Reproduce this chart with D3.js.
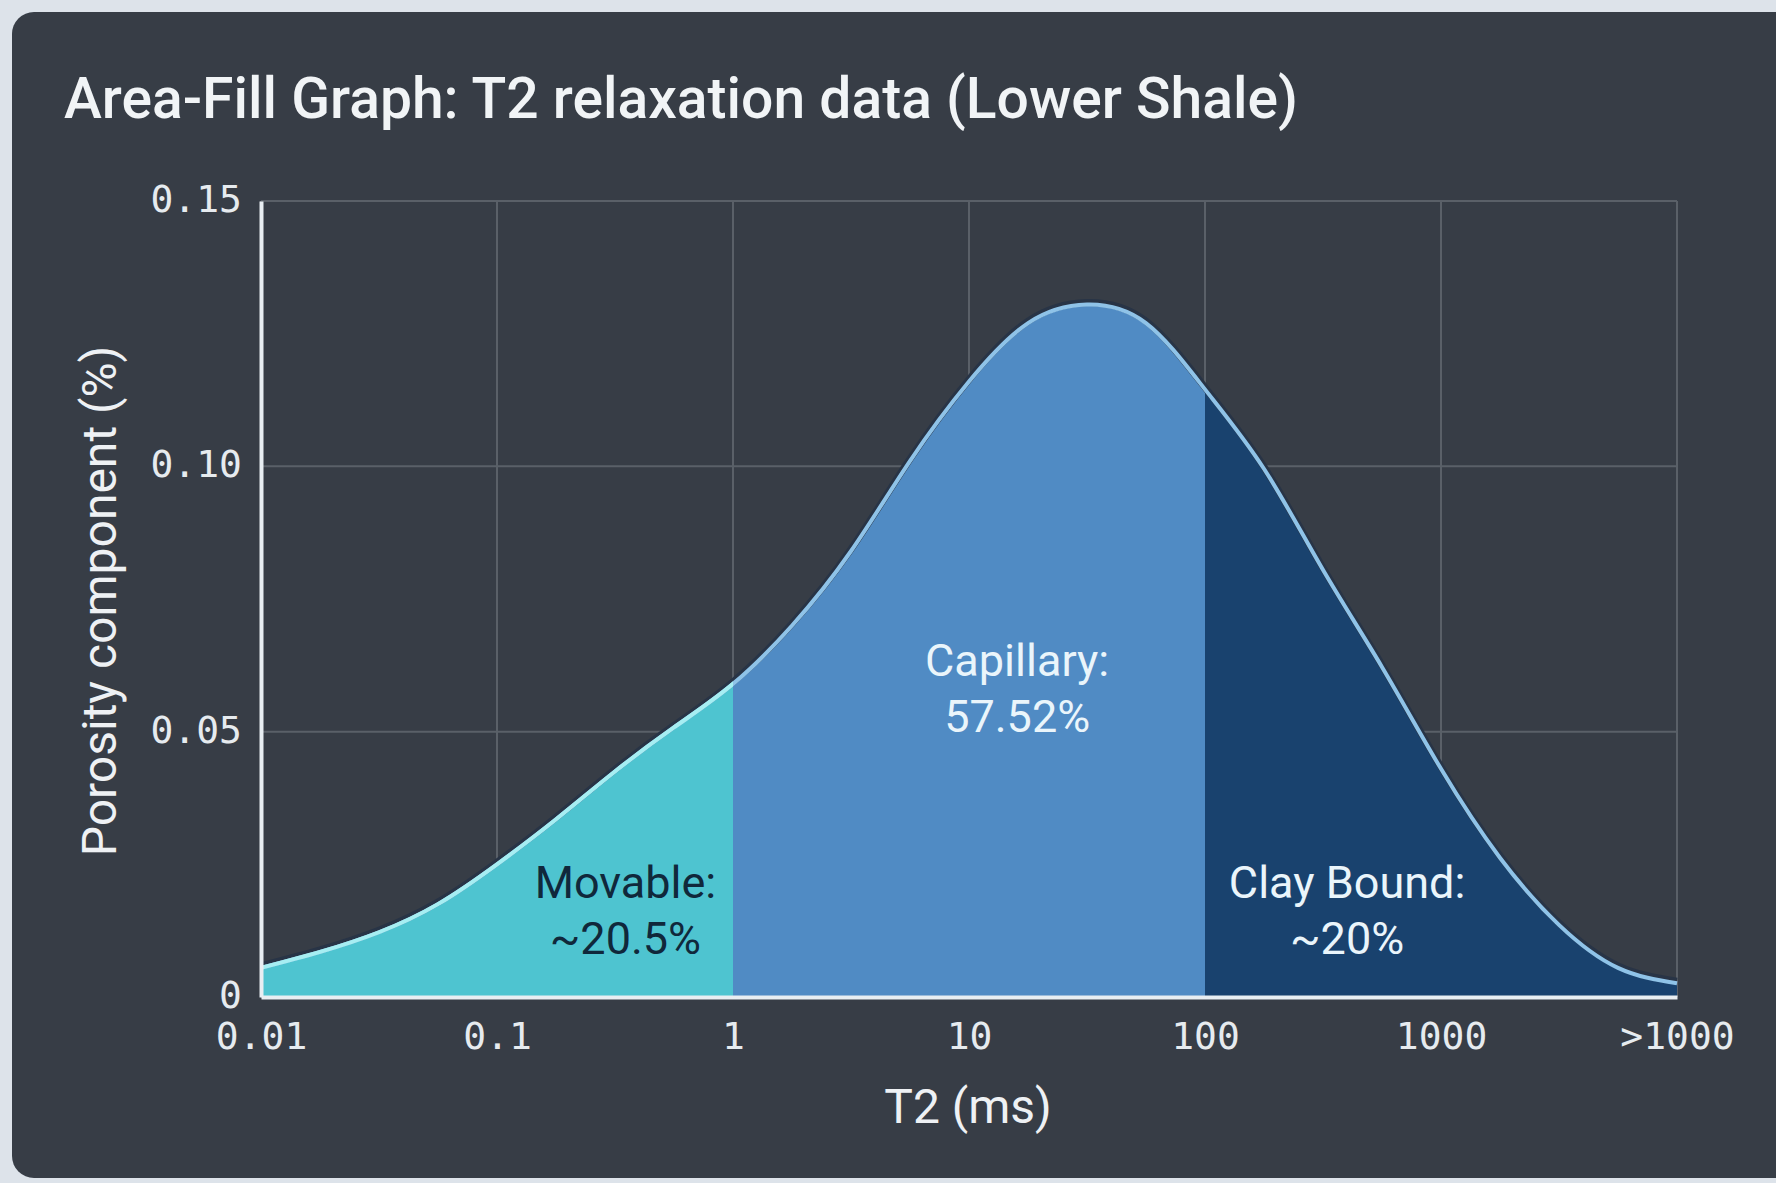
<!DOCTYPE html>
<html>
<head>
<meta charset="utf-8">
<script src="https://cdn.jsdelivr.net/npm/d3@7"></script>
<style>
    html, body { margin: 0; padding: 0; background: #dde3ea; }
    svg { display: block; }
    .tick text { font-family: "DejaVu Sans Mono", monospace; fill: #e6ebef; }
</style>
</head>
<body>
<script>
/* data */
const t2Values = [0.01, 0.0178, 0.0316, 0.0562, 0.1, 0.178, 0.316, 0.562, 1, 1.78, 3.16, 5.62, 10,
    17.8, 31.6, 56.2, 100, 178, 316, 562, 1000, 1780, 3160, 5620, 10000];
const porosity = [0.0055, 0.0085, 0.0122, 0.0175, 0.025, 0.0335, 0.0425, 0.0508, 0.059, 0.070, 0.084, 0.101, 0.116,
    0.127, 0.1305, 0.127, 0.1145, 0.0995, 0.0805, 0.0622, 0.043, 0.0262, 0.0136, 0.0055, 0.0026];

const xTicks = [0.01, 0.1, 1, 10, 100, 1000, 10000];
const xTickLabels = ["0.01", "0.1", "1", "10", "100", "1000", ">1000"];
const yTicks = [0, 0.05, 0.10, 0.15];
const yTickLabels = ["0", "0.05", "0.10", "0.15"];

const zoneNames = ["Movable:", "Capillary:", "Clay Bound:"];
const zoneShares = ["~20.5%", "57.52%", "~20%"];
const zoneStart = [0.01, 1, 100];
const zoneEnd = [1, 100, 10000];

/* styling / layout */
const zoneColours = ["#4ec4d0", "#508bc4", "#19426e"];
const zoneTextColours = ["#10283b", "#eaf5fb", "#eaf5fb"];
const labelAnchors = [[0.35, 0.0187], [16, 0.0604], [400, 0.0187]];

const width = 1776;
const height = 1183;
const plotLeft = 261, plotRight = 1677, plotTop = 201, plotBottom = 997;

const svg = d3.select("body")
    .append("svg")
    .attr("width", width)
    .attr("height", height);

svg.append("rect")
    .attr("x", 12)
    .attr("y", 12)
    .attr("width", 1790)
    .attr("height", 1166)
    .attr("rx", 22)
    .attr("fill", "#373d46");

svg.append("text")
    .attr("x", 64)
    .attr("y", 118)
    .attr("fill", "#f1f4f6")
    .attr("font-family", "Roboto")
    .attr("font-weight", 500)
    .attr("font-size", 57)
    .text("Area-Fill Graph: T2 relaxation data (Lower Shale)");

const x = d3.scaleLog().domain([0.01, 10000]).range([plotLeft, plotRight]);
const y = d3.scaleLinear().domain([0, 0.15]).range([plotBottom, plotTop]);

// grid
const grid = svg.append("g");
grid.selectAll("line.v").data(xTicks).enter()
    .append("line")
    .attr("x1", d => x(d)).attr("x2", d => x(d))
    .attr("y1", plotTop).attr("y2", plotBottom)
    .attr("stroke", "#5a6068")
    .attr("stroke-width", 2);
grid.selectAll("line.h").data(yTicks).enter()
    .append("line")
    .attr("x1", plotLeft).attr("x2", plotRight)
    .attr("y1", d => y(d)).attr("y2", d => y(d))
    .attr("stroke", "#5a6068")
    .attr("stroke-width", 2);

const points = t2Values.map((t, i) => ({t: t, v: porosity[i]}));

const area = d3.area()
    .x(d => x(d.t))
    .y0(y(0))
    .y1(d => y(d.v))
    .curve(d3.curveNatural);

const line = d3.line()
    .x(d => x(d.t))
    .y(d => y(d.v))
    .curve(d3.curveNatural);

const defs = svg.append("defs");
zoneStart.forEach((s, i) => {
    defs.append("clipPath")
        .attr("id", "zone" + i)
        .append("rect")
        .attr("x", x(s))
        .attr("y", 0)
        .attr("width", x(zoneEnd[i]) - x(s))
        .attr("height", height);
});

const zones = svg.append("g");
zoneStart.forEach((s, i) => {
    zones.append("path")
        .datum(points)
        .attr("d", area)
        .attr("fill", zoneColours[i])
        .attr("clip-path", `url(#zone${i})`);
});

// curve outline: dark shadow then light stroke
svg.append("path")
    .datum(points)
    .attr("d", line)
    .attr("fill", "none")
    .attr("stroke", "#283446")
    .attr("stroke-width", 7)
    .attr("transform", "translate(0,-2)");
svg.append("path")
    .datum(points)
    .attr("d", line)
    .attr("fill", "none")
    .attr("stroke", "#8fc3e8")
    .attr("stroke-width", 4);
svg.append("path")
    .datum(points)
    .attr("d", line)
    .attr("fill", "none")
    .attr("stroke", "#a6eef2")
    .attr("stroke-width", 4)
    .attr("clip-path", "url(#zone0)");

// zone labels
zoneNames.forEach((n, i) => {
    const lx = x(labelAnchors[i][0]);
    const ly = y(labelAnchors[i][1]);
    const t = svg.append("text")
        .attr("x", lx)
        .attr("y", ly)
        .attr("text-anchor", "middle")
        .attr("fill", zoneTextColours[i])
        .attr("font-family", "Roboto")
        .attr("font-size", 45);
    t.append("tspan").attr("x", lx).text(n);
    t.append("tspan").attr("x", lx).attr("dy", 56).text(zoneShares[i]);
});

// axes
const xAxis = svg.append("g")
    .attr("transform", `translate(0,${plotBottom})`)
    .call(d3.axisBottom(x).tickValues(xTicks).tickFormat((d, i) => xTickLabels[i]).tickSize(0).tickPadding(25));
xAxis.select(".domain").attr("stroke", "#e8eef2").attr("stroke-width", 4);
xAxis.selectAll("text").attr("font-size", 38).attr("fill", "#e6ebef");

const yAxis = svg.append("g")
    .attr("transform", `translate(${plotLeft},0)`)
    .call(d3.axisLeft(y).tickValues(yTicks).tickFormat((d, i) => yTickLabels[i]).tickSize(0).tickPadding(19));
yAxis.select(".domain").attr("stroke", "#e8eef2").attr("stroke-width", 4);
yAxis.selectAll("text").attr("font-size", 38).attr("fill", "#e6ebef").attr("dy", "0.28em");

// axis titles
svg.append("text")
    .attr("x", (plotLeft + plotRight) / 2 - 1)
    .attr("y", 1123)
    .attr("text-anchor", "middle")
    .attr("fill", "#eef1f4")
    .attr("font-family", "Roboto")
    .attr("font-size", 48)
    .text("T2 (ms)");

svg.append("text")
    .attr("transform", "translate(116,601) rotate(-90)")
    .attr("text-anchor", "middle")
    .attr("fill", "#eef1f4")
    .attr("font-family", "Roboto")
    .attr("font-size", 48)
    .text("Porosity component (%)");
</script>
</body>
</html>
